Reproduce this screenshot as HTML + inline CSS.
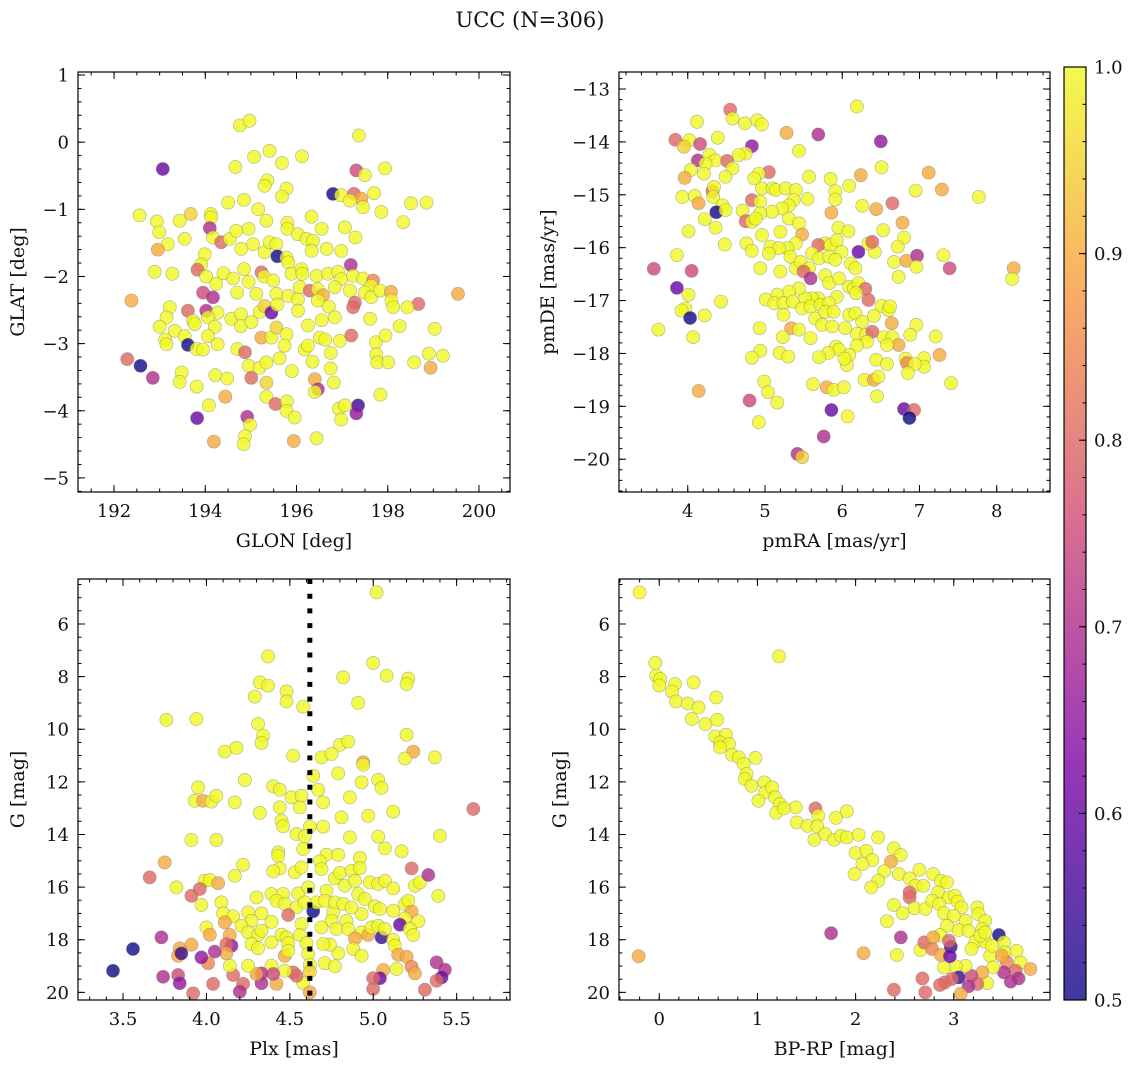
<!DOCTYPE html>
<html><head><meta charset="utf-8">
<style>
html,body{margin:0;padding:0;background:#fff;}
svg{display:block;font-family:"DejaVu Serif","Liberation Serif",serif;}
</style></head>
<body>
<svg id="fig" width="1136" height="1067" viewBox="0 0 1136 1067" xmlns="http://www.w3.org/2000/svg">
<text x="530" y="27" font-size="21" text-anchor="middle" fill="#111">UCC (N=306)</text>
</svg>
<script>
// ---------- Panel 1 data: GLON / GLAT ----------
const p1x=[194.76,194.97,197.37,193.07,197.31,197.50,197.94,195.07,195.41,196.12,195.68,194.66,195.36,195.30,195.78,195.68,196.80,196.98,197.26,197.42,197.17,197.46,197.70,198.51,198.85,197.86,198.34,194.50,194.85,195.16,192.56,192.94,192.99,193.44,193.68,194.12,194.13,194.10,195.34,195.80,196.33,196.55,197.06,197.29,193.18,193.55,192.96,194.17,194.35,194.54,194.68,194.95,194.79,195.05,195.30,195.41,195.56,195.58,195.78,195.80,196.03,196.22,196.36,196.33,196.66,196.98,193.99,193.91,192.89,193.28,193.83,194.02,194.24,194.40,194.61,194.85,194.95,195.23,195.29,195.49,195.82,195.89,196.11,196.13,196.44,196.69,196.91,196.98,197.19,197.24,197.46,197.68,197.64,192.38,193.95,194.17,194.70,195.12,195.56,195.82,196.03,196.07,196.29,196.47,196.58,196.47,196.84,197.17,197.28,197.24,197.50,197.64,197.83,198.07,198.08,198.12,198.67,199.54,198.43,193.22,193.15,193.00,193.33,193.62,193.73,194.02,194.27,194.06,194.21,194.57,194.78,194.78,195.01,195.19,195.30,195.45,195.58,196.03,196.25,196.55,196.71,196.84,197.61,198.26,199.03,193.12,193.15,193.55,193.77,193.62,193.81,193.95,194.06,194.27,194.70,194.87,195.23,195.45,195.56,195.78,195.74,196.18,196.25,196.51,196.63,196.75,196.95,197.20,197.74,197.95,197.75,197.77,198.01,198.58,198.90,199.21,198.94,192.29,192.58,192.85,193.48,193.44,193.81,194.22,194.48,194.95,195.19,195.34,195.01,195.34,195.63,195.90,196.35,196.40,196.47,196.40,196.75,196.82,197.84,194.08,194.44,195.34,195.54,195.79,195.78,195.96,196.93,197.06,196.98,197.35,197.31,193.82,194.92,194.98,194.87,194.84,194.19,195.94,196.44];
const p1y=[0.25,0.32,0.10,-0.40,-0.42,-0.49,-0.39,-0.22,-0.13,-0.21,-0.31,-0.37,-0.57,-0.65,-0.69,-0.81,-0.77,-0.79,-0.77,-0.84,-0.87,-0.97,-0.76,-0.91,-0.90,-1.04,-1.19,-0.90,-0.86,-1.00,-1.09,-1.18,-1.34,-1.17,-1.07,-1.07,-1.12,-1.28,-1.17,-1.20,-1.11,-1.29,-1.27,-1.42,-1.52,-1.44,-1.60,-1.42,-1.49,-1.44,-1.32,-1.29,-1.59,-1.52,-1.64,-1.49,-1.52,-1.70,-1.72,-1.29,-1.37,-1.44,-1.47,-1.62,-1.59,-1.62,-1.67,-1.82,-1.93,-1.96,-1.90,-2.00,-2.11,-1.95,-2.03,-1.89,-2.08,-1.94,-2.00,-2.06,-1.79,-1.96,-1.89,-1.96,-1.99,-1.96,-1.93,-2.04,-1.83,-1.99,-2.03,-2.06,-2.14,-2.36,-2.24,-2.31,-2.24,-2.26,-2.26,-2.29,-2.34,-2.16,-2.21,-2.19,-2.28,-2.36,-2.16,-2.21,-2.39,-2.46,-2.24,-2.31,-2.21,-2.23,-2.36,-2.46,-2.41,-2.26,-2.46,-2.46,-2.61,-2.75,-2.81,-2.51,-2.66,-2.51,-2.54,-2.61,-2.75,-2.63,-2.56,-2.74,-2.68,-2.53,-2.44,-2.54,-2.42,-2.51,-2.73,-2.65,-2.45,-2.61,-2.63,-2.74,-2.78,-2.94,-3.01,-2.89,-2.71,-3.02,-3.08,-3.09,-2.89,-3.01,-3.08,-3.13,-2.91,-2.91,-2.76,-2.86,-3.03,-3.09,-3.03,-2.91,-2.94,-3.14,-2.96,-2.88,-2.98,-2.88,-3.16,-3.28,-3.28,-3.28,-3.15,-3.18,-3.36,-3.23,-3.33,-3.51,-3.43,-3.57,-3.64,-3.47,-3.52,-3.33,-3.36,-3.28,-3.51,-3.58,-3.22,-3.41,-3.27,-3.53,-3.68,-3.72,-3.37,-3.58,-3.76,-3.92,-3.79,-3.79,-3.90,-3.86,-4.00,-4.10,-3.97,-3.92,-4.13,-3.92,-4.04,-4.11,-4.09,-4.21,-4.38,-4.50,-4.46,-4.45,-4.41];
const p1c=[1,1,1,.6,.75,1,1,1,1,1,1,1,1,1,1,1,.5,1,.8,.9,1,1,1,1,1,1,1,1,1,1,1,1,1,1,.95,1,1,.7,1,1,1,1,1,1,1,1,.9,1,.8,1,1,1,1,1,1,1,1,.5,1,1,1,1,1,1,1,1,1,1,1,1,.8,1,1,1,1,1,1,.8,1,1,1,1,1,1,1,1,1,1,.7,1,1,.85,1,.9,.75,.7,1,1,1,1,1,1,.8,1,.9,1,1,1,.8,.8,1,1,1,.9,1,1,.8,.9,1,1,1,1,1,.8,1,.7,1,1,1,1,1,1,1,1,.95,.6,1,1,1,1,1,1,1,1,1,1,1,1,1,.5,1,1,1,1,1,.8,.9,1,.95,1,1,1,1,1,1,1,1,.8,1,1,1,1,1,1,1,1,.9,.8,.5,.7,1,1,1,1,1,1,1,1,.8,.95,1,1,1,.9,.7,1,1,1,1,1,.9,1,.8,1,1,1,1,1,1,.55,.65,.6,.7,1,1,1,.9,.9,1];

// ---------- Panel 2 data: pmRA / pmDE ----------
const p2x=[6.19,4.55,4.58,4.12,4.74,4.90,4.96,5.28,5.69,6.50,3.84,4.02,3.95,4.16,4.39,4.83,4.75,4.66,5.44,4.13,4.28,4.36,4.23,4.51,4.58,4.49,4.04,4.21,3.96,5.05,4.92,4.86,5.57,5.85,6.24,6.51,7.12,6.09,5.91,5.91,6.95,7.29,7.77,3.93,4.09,4.14,4.32,4.34,4.33,4.45,4.37,4.49,4.22,4.36,4.83,4.94,4.96,5.10,5.14,5.27,5.40,5.55,5.37,5.31,5.22,5.09,4.94,4.71,4.75,4.83,4.88,5.31,5.44,5.20,4.96,5.48,4.01,4.48,4.76,4.83,6.26,6.44,5.86,6.65,6.78,6.53,6.80,5.95,6.08,5.78,5.69,5.85,5.93,5.99,5.40,5.29,5.07,5.18,5.33,5.05,4.94,5.20,5.40,5.46,5.61,5.70,5.57,5.50,5.59,5.83,5.91,6.11,6.17,6.21,6.42,6.34,6.39,6.72,6.67,6.83,6.97,6.96,6.73,7.31,7.39,8.22,8.20,3.56,3.86,4.05,3.86,4.01,3.97,3.92,4.03,4.22,4.43,3.62,4.07,5.78,5.83,5.96,6.09,6.15,6.21,6.30,6.34,6.18,5.93,5.69,5.61,5.52,5.44,5.31,5.16,5.01,5.12,5.24,5.36,5.48,5.59,5.72,5.83,5.65,5.78,5.89,6.09,6.17,6.26,6.41,6.51,6.60,6.62,6.64,6.96,5.24,5.34,5.44,5.59,5.23,4.93,5.74,5.87,6.04,6.19,6.31,6.39,6.54,6.65,6.73,6.58,6.32,6.19,6.88,7.21,7.26,5.92,5.96,5.82,5.70,6.09,6.06,6.03,6.44,6.58,6.82,6.84,7.06,7.06,6.94,6.85,4.94,4.83,5.19,5.30,4.99,5.04,5.16,4.92,5.62,5.80,5.89,6.02,6.29,6.41,6.47,6.45,7.41,4.14,4.80,5.86,6.07,6.80,6.93,6.87,5.76,5.42,5.48];
const p2y=[-13.33,-13.39,-13.56,-13.62,-13.65,-13.59,-13.67,-13.83,-13.86,-13.99,-13.96,-13.97,-14.09,-14.04,-13.92,-14.08,-14.22,-14.25,-14.17,-14.35,-14.24,-14.35,-14.41,-14.36,-14.50,-14.66,-14.53,-14.60,-14.68,-14.57,-14.60,-14.69,-14.66,-14.70,-14.63,-14.48,-14.58,-14.83,-14.93,-15.09,-14.92,-14.90,-15.04,-15.04,-15.02,-15.16,-14.93,-14.85,-15.04,-15.20,-15.33,-15.29,-15.46,-15.62,-15.10,-15.13,-14.88,-14.88,-14.91,-14.88,-14.91,-15.08,-15.10,-15.20,-15.26,-15.32,-15.35,-15.30,-15.50,-15.51,-15.45,-15.45,-15.54,-15.70,-15.76,-15.75,-15.69,-15.94,-15.92,-16.06,-15.21,-15.27,-15.34,-15.16,-15.53,-15.67,-15.81,-15.62,-15.69,-15.92,-15.95,-15.95,-15.86,-16.08,-15.92,-16.01,-15.98,-16.01,-16.17,-16.11,-16.39,-16.45,-16.39,-16.27,-16.11,-16.20,-16.39,-16.45,-16.58,-16.17,-16.23,-16.30,-16.39,-16.08,-16.08,-15.92,-15.89,-15.98,-16.27,-16.25,-16.15,-16.36,-16.55,-16.14,-16.39,-16.39,-16.59,-16.40,-16.14,-16.44,-16.76,-16.89,-17.15,-17.19,-17.33,-17.28,-17.02,-17.55,-17.69,-16.52,-16.67,-16.58,-16.74,-16.77,-16.67,-16.78,-16.99,-16.86,-16.93,-16.96,-16.96,-16.96,-16.77,-16.83,-16.89,-16.98,-17.05,-17.05,-17.02,-17.15,-17.11,-17.08,-17.05,-17.34,-17.21,-17.21,-17.27,-17.24,-17.40,-17.29,-17.10,-17.18,-17.11,-17.43,-17.46,-17.27,-17.52,-17.55,-17.71,-17.69,-17.52,-17.46,-17.49,-17.52,-17.63,-17.65,-17.59,-17.69,-17.69,-17.84,-17.84,-17.78,-17.85,-17.65,-17.68,-18.03,-17.87,-17.93,-17.99,-18.07,-18.03,-18.22,-18.10,-18.12,-18.20,-18.10,-18.18,-18.09,-18.25,-18.20,-18.37,-17.95,-18.08,-17.99,-18.06,-18.53,-18.73,-18.93,-19.30,-18.58,-18.64,-18.69,-18.64,-18.50,-18.50,-18.44,-18.81,-18.56,-18.71,-18.89,-19.07,-19.19,-19.05,-19.07,-19.22,-19.57,-19.90,-19.96];
const p2c=[1,.8,1,1,1,1,1,.9,.7,.65,.8,1,.95,.75,1,.65,1,1,1,.7,1,1,1,.8,1,1,1,1,.9,.8,1,1,1,1,.9,1,.9,1,1,1,1,.9,1,1,1,.9,.8,1,1,1,.5,1,1,1,.8,1,1,1,1,1,1,1,1,1,1,1,1,1,.8,1,1,1,1,1,1,.9,1,1,1,1,1,.9,.9,.8,.9,1,1,1,1,1,.8,1,1,1,1,1,1,1,1,1,1,1,1,1,1,1,1,.8,.7,1,1,1,1,.6,1,1,.8,1,1,.9,.7,1,1,1,.75,.9,1,.75,1,.75,.6,1,1,1,.5,1,1,1,1,1,1,1,1,1,1,.8,.8,1,1,1,1,1,1,1,1,1,1,1,1,1,1,1,1,1,1,1,1,1,1,1,1,1,1,.9,1,1,.9,1,1,1,1,1,1,1,1,1,.8,1,1,.9,1,1,1,1,1,.9,1,1,1,1,1,1,1,1,1,1,.85,1,1,1,1,1,1,1,1,1,1,1,1,1,.9,1,1,1,.9,1,1,1,.9,.75,.6,1,.6,.8,.5,.7,.7,.95,.8];

// ---------- Panel 3 data: Plx / G ----------
const p3x=[5.02,4.37,5.00,4.82,5.08,5.21,5.20,4.32,4.37,4.48,4.48,4.29,4.58,4.91,3.76,3.94,4.31,4.34,4.33,4.11,4.18,4.52,4.80,4.85,4.69,4.75,4.94,4.94,5.20,5.24,5.19,5.37,4.64,4.79,4.93,5.03,5.05,4.23,3.95,3.93,3.98,4.03,4.06,4.17,4.40,4.44,4.51,4.57,4.44,4.56,4.32,4.67,4.70,4.86,4.81,4.97,5.12,5.60,4.45,4.46,4.62,4.70,4.54,4.59,3.91,4.06,4.86,5.03,5.40,4.43,4.43,4.58,4.72,4.79,4.92,5.07,5.17,3.75,4.22,4.44,4.40,4.53,4.57,4.68,4.69,3.66,4.17,3.82,3.99,4.02,4.07,3.96,3.91,3.97,4.09,4.10,4.16,4.30,4.39,4.46,4.42,4.47,4.54,4.25,4.33,4.27,4.21,4.00,4.02,4.11,4.14,4.25,4.31,4.33,4.27,4.31,4.39,4.45,4.48,4.49,4.47,4.49,4.49,4.55,4.61,4.59,4.57,4.56,4.60,4.61,4.64,4.66,4.72,4.71,4.76,4.75,4.69,4.78,4.77,4.82,4.77,4.80,4.83,4.87,4.92,4.89,4.91,4.95,4.98,5.03,5.07,5.12,5.01,5.04,4.93,4.87,4.84,4.85,4.93,4.97,4.99,5.03,5.05,5.07,5.12,5.19,5.21,5.23,5.19,5.27,5.16,5.22,5.24,5.25,5.28,5.33,5.23,5.39,5.12,5.13,5.15,5.20,5.23,5.25,5.14,5.06,5.04,5.00,5.00,5.31,5.38,5.43,5.41,5.38,4.89,4.88,4.93,4.79,4.74,4.70,4.71,4.77,4.62,4.62,4.58,4.62,4.54,4.52,4.47,4.42,4.39,4.40,4.33,4.33,4.30,4.25,4.22,4.20,4.16,4.14,4.15,4.12,4.12,4.05,4.01,3.97,4.04,3.92,3.91,3.84,3.83,3.85,3.83,3.84,3.74,3.73,3.56,3.44,4.39];
const p3y=[4.80,7.23,7.48,8.03,7.96,8.07,8.28,8.22,8.34,8.56,8.94,8.76,9.14,9.00,9.64,9.61,9.80,10.24,10.52,10.85,10.71,11.00,10.59,10.47,11.07,10.94,11.26,11.35,10.21,10.85,11.11,11.07,11.77,11.68,12.02,11.92,12.23,11.93,12.21,12.72,12.72,12.75,12.53,12.78,12.17,12.30,12.59,12.53,12.97,12.97,13.18,12.30,12.78,12.59,13.35,13.29,13.13,13.03,13.48,13.69,13.70,13.70,13.98,14.07,14.21,14.21,14.11,14.08,14.05,14.68,14.81,14.55,14.77,14.77,14.89,14.53,14.64,15.06,15.15,15.29,15.40,15.44,15.25,15.02,15.31,15.63,15.57,16.01,15.76,15.73,15.85,16.07,16.33,16.68,16.58,17.00,17.11,16.39,16.26,16.26,16.52,16.64,16.77,16.96,17.00,17.28,17.47,17.53,17.81,17.34,17.82,17.72,17.82,17.66,18.16,18.32,18.10,17.81,17.91,18.13,18.61,18.42,17.06,16.24,16.01,16.58,17.40,17.82,18.13,18.54,16.92,16.58,16.14,16.52,16.96,17.28,17.53,17.59,16.58,16.64,15.67,15.46,15.95,15.38,15.28,15.76,16.26,16.45,15.82,15.88,15.76,16.05,16.73,16.83,17.02,16.77,17.28,17.59,17.72,17.82,17.53,17.47,17.91,17.59,16.90,16.64,16.52,16.93,17.19,17.30,17.43,17.59,17.82,15.95,15.82,15.54,15.29,16.33,18.01,18.23,18.57,18.65,19.03,19.28,19.11,19.15,19.46,19.46,19.87,19.90,18.86,19.14,19.43,19.56,17.95,18.35,18.61,18.51,18.19,18.16,18.89,19.01,18.96,19.22,19.65,20.00,19.37,19.24,19.18,19.68,18.99,19.30,19.28,19.65,19.30,18.99,19.68,19.97,19.34,18.99,18.23,18.16,18.52,18.45,18.89,18.67,19.68,20.04,18.19,18.33,18.61,18.52,19.34,19.65,19.41,17.91,18.35,19.18,17.32];
const p3c=[1,1,1,1,1,1,1,1,1,1,1,1,1,1,
1,1,1,1,1,1,1,1,1,1,1,1,
.9,1,1,.9,1,1,
1,1,1,1,1,1,1,1,
.9,
1,1,1,1,1,1,1,1,1,1,1,1,1,1,1,1,
.8,
1,1,1,1,1,1,1,1,1,1,1,1,1,1,1,1,1,1,1,
.9,
1,1,1,1,1,1,1,
.8,
1,1,1,1,.9,.8,.8,
1,1,1,1,1,1,1,1,1,1,1,1,1,1,1,
.9,.9,.9,
1,1,1,1,1,1,1,1,1,
.9,1,.8,
1,1,1,1,1,1,1,
.5,
1,1,1,1,1,1,1,1,1,1,1,1,1,1,1,1,1,1,1,1,1,1,1,1,1,1,1,1,
.9,1,1,.55,1,1,1,1,.9,1,1,.6,1,1,1,1,.7,.8,1,1,1,.9,.9,.85,.9,1,.9,.6,.8,.8,.8,.7,.7,.6,.8,.9,1,1,1,1,1,1,1,1,.95,1,.9,.8,.8,1,.9,1,.75,.7,.7,.9,1,.8,.7,.8,1,.65,.8,.9,.7,.85,.65,.8,.8,.9,.9,.9,.55,.75,.65,.7,.7,.5,.5,1];

// ---------- Panel 4 data: BP-RP / G ----------
const p4x=[-0.20,-0.21,1.22,-0.04,-0.03,0.01,0.00,0.16,0.13,0.17,0.35,0.29,0.40,0.58,0.33,0.47,0.59,0.57,0.68,0.62,0.71,0.62,0.74,0.81,0.98,0.86,0.89,0.87,0.94,1.07,1.08,1.01,1.15,1.18,1.23,1.19,1.39,1.27,1.59,1.62,1.40,1.51,1.61,1.80,1.91,1.58,1.69,1.78,1.85,1.91,2.03,2.23,2.00,2.11,2.17,2.07,2.39,2.46,2.36,2.29,1.99,2.23,2.16,2.44,2.55,2.65,2.61,2.69,2.79,2.87,2.93,2.84,2.95,3.01,2.55,2.55,2.39,2.48,2.60,2.71,2.78,2.85,2.90,3.04,3.08,3.00,3.12,3.24,3.25,3.32,3.05,3.15,3.29,2.93,2.86,3.22,3.18,3.32,3.37,3.46,3.51,3.52,3.64,3.68,3.78,3.54,3.63,3.51,3.66,3.58,3.40,3.34,3.29,3.24,3.18,3.12,3.02,3.05,3.15,3.07,2.98,2.91,2.86,2.90,2.71,2.68,2.39,2.42,2.66,2.70,2.79,2.78,2.87,2.97,2.96,2.95,2.46,1.75,2.08,2.32,3.27,3.32,3.39,3.49];
const p4y=[4.80,18.63,7.23,7.48,7.96,8.09,8.34,8.28,8.57,8.94,8.22,9.02,9.17,8.79,9.61,9.80,9.64,10.27,10.21,10.50,10.56,10.69,10.97,11.07,11.09,11.32,11.70,11.89,12.15,12.02,12.40,12.72,12.21,12.59,12.84,13.18,12.97,13.01,13.01,13.29,13.54,13.67,13.69,13.37,13.12,14.20,13.98,14.20,14.05,14.11,14.01,14.11,14.70,14.62,14.97,15.12,14.53,14.78,15.03,15.40,15.50,15.76,16.01,15.50,15.67,15.34,15.95,15.95,15.50,15.76,15.82,16.20,16.39,16.33,16.20,16.39,16.68,16.99,16.80,16.83,16.52,16.64,16.99,16.55,16.77,17.09,17.28,16.77,17.02,17.28,17.63,17.66,17.59,17.47,17.82,18.08,18.35,18.08,18.61,17.82,18.10,18.48,18.42,18.86,19.11,18.86,19.18,19.24,19.47,19.59,19.05,19.65,19.24,19.68,19.37,18.99,19.01,19.43,19.77,20.06,19.49,19.62,19.72,19.05,20.00,19.47,19.90,18.58,18.39,18.10,17.91,18.35,18.58,18.27,18.63,18.04,17.91,17.75,18.51,17.30,17.85,17.72,18.23,18.61];
const p4c=[1,.9,
1,1,1,1,1,1,1,1,1,1,1,1,1,1,1,1,1,1,1,1,1,1,1,1,1,1,1,1,1,1,1,1,1,1,1,1,
.8,
1,1,1,1,1,1,1,1,1,1,1,1,1,1,1,1,1,1,1,
.9,
1,1,1,1,1,1,1,1,1,1,1,1,1,1,1,
.8,.8,
1,1,1,1,1,1,1,1,1,1,1,1,1,1,1,1,1,1,1,1,1,1,1,
.5,1,1,1,1,.9,.85,.8,.7,.7,.7,1,1,.9,.8,.75,1,1,.55,.7,.9,.8,.8,.8,1,.8,.8,.8,1,1,.8,.9,.85,.9,.55,.6,.8,.7,.7,.9,1,1,1,1,.9];

// ---------- axis tick arrays ----------
const p1xt=[192,194,196,198,200], p1yt=[1,0,-1,-2,-3,-4,-5];
const p2xt=[4,5,6,7,8], p2yt=[-13,-14,-15,-16,-17,-18,-19,-20];
const p3xt=[3.5,4.0,4.5,5.0,5.5], gyt=[6,8,10,12,14,16,18,20];
const p4xt=[0,1,2,3];
const cbt=[0.5,0.6,0.7,0.8,0.9,1.0];
const plxLine=[4.62];

const NS='http://www.w3.org/2000/svg';
const svg=document.getElementById('fig');
function mk(tag,attrs,parent){const e=document.createElementNS(NS,tag);for(const k in attrs)e.setAttribute(k,attrs[k]);(parent||svg).appendChild(e);return e;}

const stops=[[13,8,135],[126,3,168],[204,71,120],[248,149,64],[240,249,33]];
function plasma(t){t=Math.max(0,Math.min(1,t));const s=t*4,i=Math.min(3,Math.floor(s)),f=s-i;const a=stops[i],b=stops[i+1];
 return 'rgb('+[0,1,2].map(k=>Math.round(a[k]+(b[k]-a[k])*f)).join(',')+')';}
function cmap(v){return plasma((v-0.5)/0.5);}

function fmt(v,dec){let s=v.toFixed(dec);if(v<0)s='\u2212'+s.slice(1);return s;}

const TFS=18, LFS=19;
function panel(o){
 const g=mk('g',{});
 
 
 const sx=v=>o.L+(v-o.x0)/(o.x1-o.x0)*(o.R-o.L);
 const sy=v=>o.T+(v-o.y0)/(o.y1-o.y0)*(o.B-o.T);
 const cid='clip-'+o.name;
 const cp=mk('clipPath',{id:cid},g);mk('rect',{x:o.L,y:o.T,width:o.R-o.L,height:o.B-o.T},cp);
 const pts=mk('g',{'clip-path':'url(#'+cid+')'},g);
 
 
 for(let i=0;i<o.xs.length;i++){
  const c=mk('circle',{cx:sx(o.xs[i]).toFixed(1),cy:sy(o.ys[i]).toFixed(1),r:6.6,fill:cmap(o.cs[i]===undefined?1:o.cs[i]),'fill-opacity':0.8,stroke:'#777','stroke-opacity':0.55,'stroke-width':0.6},pts);
  
  
 }
 if(o.vline){for(const v of o.vline){const l=mk('line',{x1:sx(v),x2:sx(v),y1:o.T,y2:o.B,stroke:'#000','stroke-width':5,'stroke-dasharray':'5 9.7'},g);
  
  }}
 const fr=mk('rect',{x:o.L,y:o.T,width:o.R-o.L,height:o.B-o.T,fill:'none',stroke:'#000','stroke-width':1.2},g);
 
 
 const tk=mk('g',{stroke:'#000','stroke-width':1},g);
 for(let v=Math.ceil(o.x0/o.xmin)*o.xmin;v<=o.x1;v+=o.xmin){const x=sx(v);mk('line',{x1:x,x2:x,y1:o.B,y2:o.B-3.5},tk);mk('line',{x1:x,x2:x,y1:o.T,y2:o.T+3.5},tk);}
 const lo=Math.min(o.y0,o.y1),hi=Math.max(o.y0,o.y1);
 for(let v=Math.ceil(lo/o.ymin)*o.ymin;v<=hi+1e-9;v+=o.ymin){const y=sy(v);mk('line',{x1:o.L,x2:o.L+3.5,y1:y,y2:y},tk);mk('line',{x1:o.R,x2:o.R-3.5,y1:y,y2:y},tk);}
 for(const v of o.xt){const x=sx(v);mk('line',{x1:x,x2:x,y1:o.B,y2:o.B-7},tk);mk('line',{x1:x,x2:x,y1:o.T,y2:o.T+7},tk);
  const t=mk('text',{x:x,y:o.B+25,'font-size':TFS,'text-anchor':'middle',fill:'#111'},g);t.textContent=fmt(v,o.xdec);
  
  }
 for(const v of o.yt){const y=sy(v);mk('line',{x1:o.L,x2:o.L+7,y1:y,y2:y},tk);mk('line',{x1:o.R,x2:o.R-7,y1:y,y2:y},tk);
  const t=mk('text',{x:o.L-9,y:y+6.5,'font-size':TFS,'text-anchor':'end',fill:'#111'},g);t.textContent=fmt(v,0);
  
  }
 const xl=mk('text',{x:(o.L+o.R)/2,y:o.B+55,'font-size':LFS,'text-anchor':'middle',fill:'#111'},g);xl.textContent=o.xlab;
 
 
 const cy=(o.T+o.B)/2;
 const yl=mk('text',{x:o.ylx,y:cy,'font-size':LFS,'text-anchor':'middle',fill:'#111',transform:'rotate(-90 '+o.ylx+' '+cy+')'},g);yl.textContent=o.ylab;
 
 
}

panel({name:'glon-glat-panel',L:78,R:510,T:72,B:492,x0:191.21,x1:200.68,y0:1.045,y1:-5.21,xs:p1x,ys:p1y,cs:p1c,xt:p1xt,yt:p1yt,xmin:0.5,ymin:0.2,xdec:0,xlab:'GLON [deg]',ylab:'GLAT [deg]',ylx:24});
panel({name:'pm-panel',L:619,R:1050,T:72,B:492,x0:3.11,x1:8.69,y0:-12.678,y1:-20.62,xs:p2x,ys:p2y,cs:p2c,xt:p2xt,yt:p2yt,xmin:0.2,ymin:0.2,xdec:0,xlab:'pmRA [mas/yr]',ylab:'pmDE [mas/yr]',ylx:554});
panel({name:'plx-g-panel',L:78,R:510,T:579,B:1000,x0:3.23,x1:5.82,y0:4.29,y1:20.29,xs:p3x,ys:p3y,cs:p3c,xt:p3xt,yt:gyt,xmin:0.1,ymin:0.5,xdec:1,xlab:'Plx [mas]',ylab:'G [mag]',ylx:24,vline:plxLine});
panel({name:'cmd-panel',L:619,R:1050,T:579,B:1000,x0:-0.41,x1:3.98,y0:4.29,y1:20.29,xs:p4x,ys:p4y,cs:p4c,xt:p4xt,yt:gyt,xmin:0.2,ymin:0.5,xdec:0,xlab:'BP-RP [mag]',ylab:'G [mag]',ylx:566});

// ---------- colorbar ----------
(function(){
 const L=1064,R=1086,T=67,B=1000;
 const cb=mk('g',{});
 
 
 const defs=mk('defs',{},cb);
 const lg=mk('linearGradient',{id:'cbg',x1:0,y1:1,x2:0,y2:0},defs);
 for(let i=0;i<=20;i++){mk('stop',{offset:i/20,'stop-color':plasma(i/20),'stop-opacity':0.8},lg);}
 mk('rect',{x:L,y:T,width:R-L,height:B-T,fill:'url(#cbg)',stroke:'#000','stroke-width':1.2},cb);
 const sy=v=>B-(v-0.5)/0.5*(B-T);
 for(let v=0.5;v<=1.0001;v+=0.02){mk('line',{x1:R,x2:R-3.5,y1:sy(v),y2:sy(v),stroke:'#000'},cb);}
 for(const v of cbt){const y=sy(v);mk('line',{x1:R,x2:R-7,y1:y,y2:y,stroke:'#000'},cb);
  const t=mk('text',{x:R+8,y:y+6.5,'font-size':TFS,fill:'#111'},cb);t.textContent=v.toFixed(1);
  
  }
})();
</script>
</body></html>
